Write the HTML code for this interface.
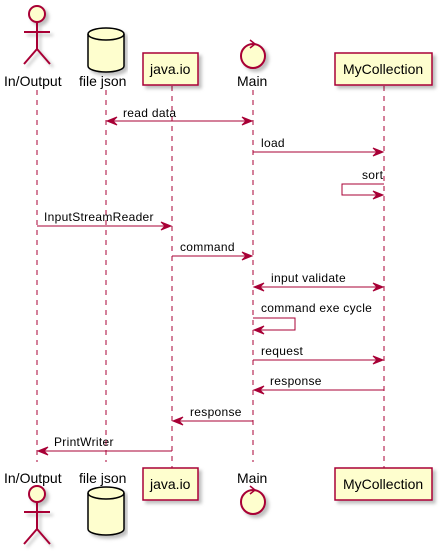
<!DOCTYPE html><html><head><style>body{margin:0;background:#fff}svg{display:block}text{font-family:"Liberation Sans",sans-serif;font-size:14px;fill:#000}</style></head><body>
<svg width="442" height="552" xmlns="http://www.w3.org/2000/svg">
<defs><filter id="s"><feDropShadow dx="3" dy="3" stdDeviation="1.5" flood-color="#000" flood-opacity="0.25"/></filter></defs>
<g stroke="#A80036" stroke-dasharray="5,5" stroke-width="1">
<line x1="37" y1="90" x2="37" y2="462"/><line x1="106" y1="90" x2="106" y2="462"/><line x1="172" y1="86" x2="172" y2="468"/><line x1="253" y1="90" x2="253" y2="462"/><line x1="384" y1="86" x2="384" y2="468"/>
</g>
<g fill="#FEFECE" stroke="#A80036" stroke-width="2" filter="url(#s)">
<circle cx="37" cy="14" r="8"/>
<path d="M37 22V49M24 32H50M37 49L24 64M37 49L50 64" fill="none"/>
<rect x="143" y="53" width="55" height="32" stroke-width="1.5"/>
<rect x="335" y="53" width="97" height="32" stroke-width="1.5"/>
<circle cx="253" cy="56" r="12"/>
<circle cx="37" cy="494" r="8"/>
<path d="M37 502V529M24 512H50M37 529L24 544M37 529L50 544" fill="none"/>
<rect x="143" y="468" width="55" height="32" stroke-width="1.5"/>
<rect x="335" y="468" width="97" height="32" stroke-width="1.5"/>
<circle cx="253" cy="502" r="12"/>
</g>
<g fill="#FEFECE" stroke="#000" stroke-width="1.5" filter="url(#s)">
<path d="M88 34 A18 6 0 0 1 124 34 V66 A18 6 0 0 1 88 66Z"/>
<path d="M88 34 A18 6 0 0 0 124 34" fill="none"/>
<path d="M88 493 A18 6 0 0 1 124 493 V529 A18 6 0 0 1 88 529Z"/>
<path d="M88 493 A18 6 0 0 0 124 493" fill="none"/>
</g>
<g stroke="#A80036" stroke-width="1.5" fill="none">
<path d="M250 40 L255 44 L250 48"/><path d="M250 486 L255 490 L250 494"/>
</g>
<text x="4" y="86">In/Output</text><text x="79" y="86">file json</text><text x="150" y="74">java.io</text><text x="237" y="86">Main</text><text x="343" y="74">MyCollection</text>
<text x="4" y="483">In/Output</text><text x="79" y="483">file json</text><text x="150" y="489">java.io</text><text x="237" y="483">Main</text><text x="343" y="489">MyCollection</text>
<g stroke="#A80036" stroke-width="1" fill="none">
<line x1="107" y1="121" x2="252" y2="121"/>
<line x1="253" y1="152" x2="383" y2="152"/>
<path d="M384 184 H342 V195 H383"/>
<line x1="37" y1="226" x2="171" y2="226"/>
<line x1="172" y1="256" x2="252" y2="256"/>
<line x1="254" y1="287" x2="383" y2="287"/>
<path d="M253 318 H295 V330 H254"/>
<line x1="253" y1="360" x2="383" y2="360"/>
<line x1="254" y1="390" x2="384" y2="390"/>
<line x1="173" y1="421" x2="253" y2="421"/>
<line x1="38" y1="451" x2="172" y2="451"/>
</g>
<g fill="#A80036" stroke="#A80036" stroke-width="1">
<path d="M107 121 l10 -4 l-4 4 l4 4z"/><path d="M252 121 l-10 -4 l4 4 l-4 4z"/>
<path d="M383 152 l-10 -4 l4 4 l-4 4z"/>
<path d="M383 195 l-10 -4 l4 4 l-4 4z"/>
<path d="M171 226 l-10 -4 l4 4 l-4 4z"/>
<path d="M252 256 l-10 -4 l4 4 l-4 4z"/>
<path d="M254 287 l10 -4 l-4 4 l4 4z"/><path d="M383 287 l-10 -4 l4 4 l-4 4z"/>
<path d="M254 330 l10 -4 l-4 4 l4 4z"/>
<path d="M383 360 l-10 -4 l4 4 l-4 4z"/>
<path d="M254 390 l10 -4 l-4 4 l4 4z"/>
<path d="M173 421 l10 -4 l-4 4 l4 4z"/>
<path d="M38 451 l10 -4 l-4 4 l4 4z"/>
</g>
<g style="font-size:12px;letter-spacing:0.3px">
<text x="123" y="117" style="font-size:12px">read data</text>
<text x="261" y="147" style="font-size:12px">load</text>
<text x="362" y="179" style="font-size:12px">sort</text>
<text x="44" y="221" style="font-size:12px">InputStreamReader</text>
<text x="180" y="251" style="font-size:12px">command</text>
<text x="271" y="282" style="font-size:12px">input validate</text>
<text x="261" y="312" style="font-size:12px">command exe cycle</text>
<text x="261" y="355" style="font-size:12px">request</text>
<text x="270" y="385" style="font-size:12px">response</text>
<text x="190" y="416" style="font-size:12px">response</text>
<text x="54" y="446" style="font-size:12px">PrintWriter</text>
</g>
</svg></body></html>
